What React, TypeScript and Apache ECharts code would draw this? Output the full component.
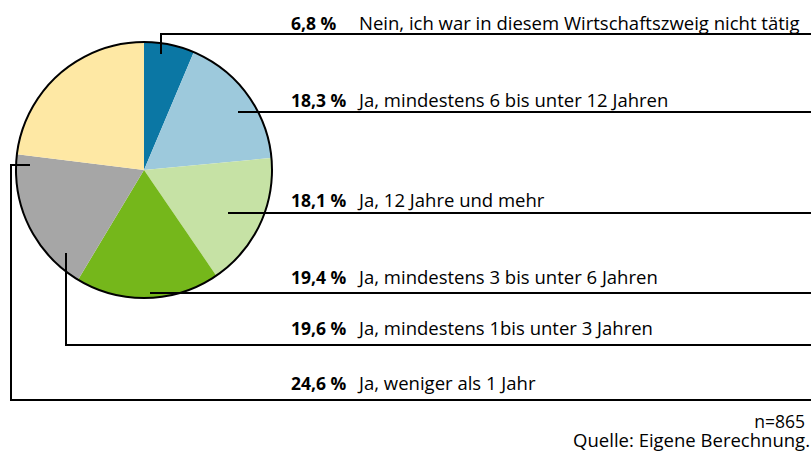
import React, { useEffect, useRef } from "react";
import * as echarts from "echarts";

const categories = [
  "Nein, ich war in diesem Wirtschaftszweig nicht tätig",
  "Ja, mindestens 6 bis unter 12 Jahren",
  "Ja, 12 Jahre und mehr",
  "Ja, mindestens 3 bis unter 6 Jahren",
  "Ja, mindestens 1bis unter 3 Jahren",
  "Ja, weniger als 1 Jahr",
];
const values = [6.8, 18.3, 18.1, 19.4, 19.6, 24.6];
const percentLabels = ["6,8 %", "18,3 %", "18,1 %", "19,4 %", "19,6 %", "24,6 %"];
const colors = ["#0b77a4", "#9dc9dc", "#c6e2a5", "#75b71b", "#a6a6a6", "#fee8a4"];
const noteN = "n=865";
const noteSource = "Quelle: Eigene Berechnung.";

// annotation layout: text baselines and leader lines
const rowBaselineY = [29.5, 106.5, 207, 284, 335, 389.5];
const leaderPaths: number[][][] = [
  [[161, 54], [161, 34], [811, 34]],
  [[238, 112], [811, 112]],
  [[228, 213], [811, 213]],
  [[150, 293], [811, 293]],
  [[66, 253], [66, 345], [811, 345]],
  [[30, 165], [11, 165], [11, 400], [811, 400]],
];

const FONT = "Open Sans";

export default function App() {
  const ref = useRef<HTMLDivElement>(null);
  useEffect(() => {
    if (!ref.current) return;
    const chart = echarts.init(ref.current, undefined, { renderer: "svg" });
    const graphics: any[] = [];
    leaderPaths.forEach((pts) => {
      graphics.push({
        type: "polyline",
        shape: { points: pts },
        style: { stroke: "#000", lineWidth: 2, fill: "none" },
        z: 10,
      });
    });
    rowBaselineY.forEach((b, i) => {
      graphics.push({
        type: "text",
        x: 291,
        y: b + 2,
        style: {
          text: percentLabels[i],
          fontFamily: FONT,
          fontSize: 17.5,
          fontWeight: "bold",
          fill: "#000",
          align: "left",
          verticalAlign: "bottom",
        },
        z: 10,
      });
      graphics.push({
        type: "text",
        x: 359,
        y: b + 2,
        style: {
          text: categories[i],
          fontFamily: FONT,
          fontSize: 18.5,
          fill: "#000",
          align: "left",
          verticalAlign: "bottom",
        },
        z: 10,
      });
    });
    graphics.push({
      type: "text",
      x: 805,
      y: 429.2,
      style: {
        text: noteN,
        fontFamily: FONT,
        fontSize: 17.5,
        lineHeight: 16,
        fill: "#000",
        align: "right",
        verticalAlign: "bottom",
      },
    });
    graphics.push({
      type: "text",
      x: 810,
      y: 447.8,
      style: {
        text: noteSource,
        fontFamily: FONT,
        fontSize: 18.5,
        lineHeight: 17,
        fill: "#000",
        align: "right",
        verticalAlign: "bottom",
      },
    });

    chart.setOption({
      animation: false,
      backgroundColor: "#fff",
      series: [
        {
          type: "pie",
          center: [144, 170],
          radius: [0, 128],
          startAngle: 90,
          clockwise: true,
          label: { show: false },
          labelLine: { show: false },
          silent: true,
          itemStyle: { borderWidth: 0 },
          data: values.map((v, i) => ({ name: categories[i], value: v, itemStyle: { color: colors[i] } })),
        },
        {
          type: "pie",
          center: [144, 170],
          radius: [0, 128],
          label: { show: false },
          labelLine: { show: false },
          silent: true,
          z: 5,
          itemStyle: { color: "rgba(0,0,0,0)", borderColor: "#000", borderWidth: 2 },
          data: [{ name: "outline", value: 1 }],
        },
      ],
      graphic: graphics,
    });
    return () => chart.dispose();
  }, []);
  return (
    <div
      ref={ref}
      style={{ position: "fixed", left: 0, top: 0, width: 811, height: 458 }}
    />
  );
}
